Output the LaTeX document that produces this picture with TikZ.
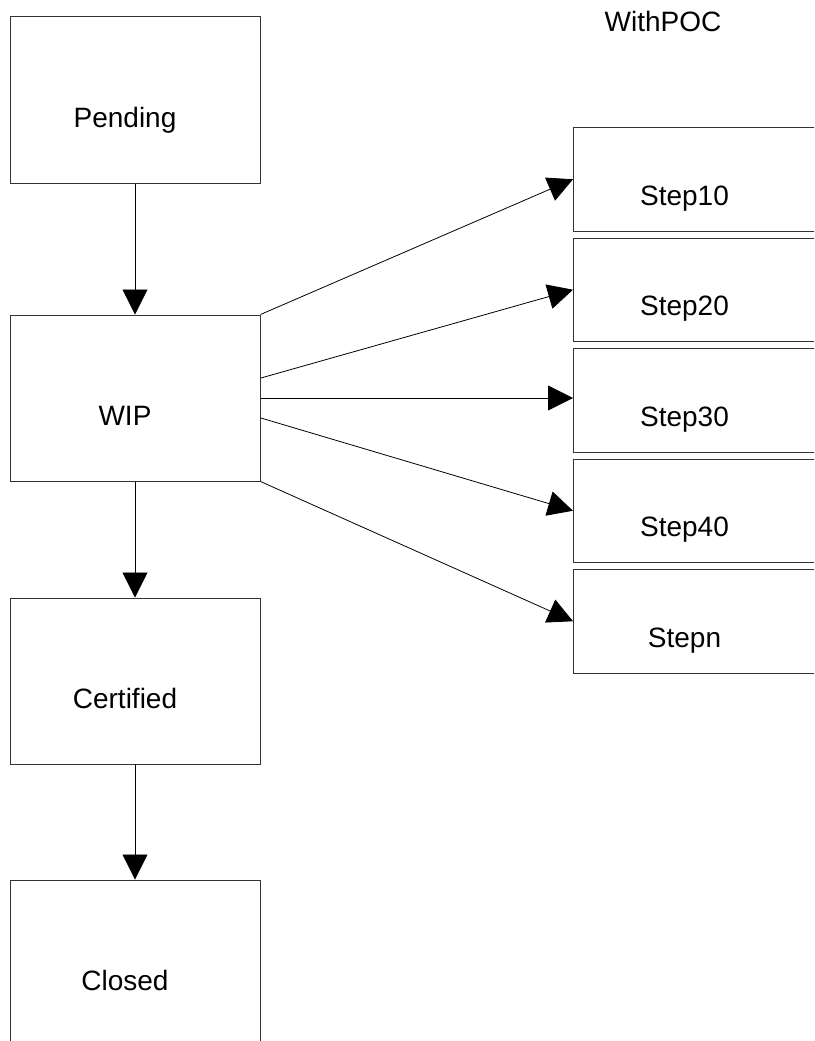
\documentclass[tikz,border=0pt]{standalone}
\usepackage{fontspec}
\setmainfont{Liberation Sans}
\usetikzlibrary{positioning,arrows.meta}

\begin{document}
\begin{tikzpicture}[x=1pt, y=1pt,
        statenode/.style={rectangle, draw=black!80, line width=1pt, inner sep=0pt, minimum width=250pt, text height=110pt, text depth=56pt, font=\fontsize{28pt}{34pt}\selectfont, execute at end node={\hspace*{20pt}}},
        stepnode/.style={statenode, text height=77.75pt, text depth=25.75pt, execute at end node={\hspace*{8pt}}},
        flow/.style={-{Triangle[length=25pt, width=25pt]}, line width=0.8pt}]

        \useasboundingbox (0,0) rectangle (814,-1041);
        \clip (0,0) rectangle (814,-1041);

        \node[font=\fontsize{28pt}{34pt}\selectfont] (title) at (663,-21) {WithPOC};

        \node[statenode] (1) at (135,-100) {Pending};
        \node[statenode] (2) [below=131pt of 1] {WIP};
        \node[statenode] (3) [below=116pt of 2] {Certified};
        \node[statenode] (4) [below=115pt of 3] {Closed};

        \node[stepnode, anchor=north west] (5) at (573,-127) {Step10};
        \node[stepnode] (6) [below=6pt of 5] {Step20};
        \node[stepnode] (7) [below=6pt of 6] {Step30};
        \node[stepnode] (8) [below=6pt of 7] {Step40};
        \node[stepnode] (9) [below=6pt of 8] {Stepn};

        \draw[flow] (1) -- (2);
        \draw[flow] (2) -- (3);
        \draw[flow] (3) -- (4);
        \draw[flow] (2.north east) -- (5.west);
        \draw[flow] (2.9.3) -- (6.west);
        \draw[flow] (2.east) -- (2.east -| 7.west);
        \draw[flow] (2.-9.3) -- (8.west);
        \draw[flow] (2.south east) -- (9.west);

\end{tikzpicture}
\end{document}
